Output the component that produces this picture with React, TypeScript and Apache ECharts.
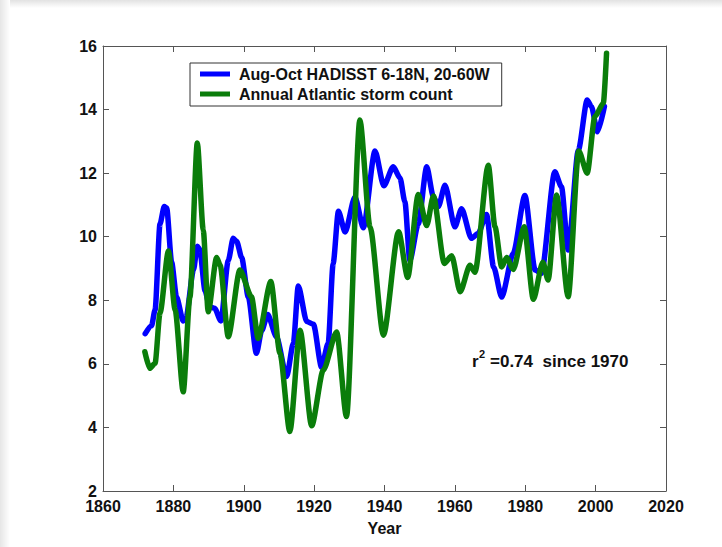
import React, { useEffect, useRef } from "react";
import * as echarts from "echarts";

// Aug-Oct HADISST 6-18N, 20-60W (scaled)
const sstYears = [
  1872.0, 1873.8, 1874.8, 1876.2, 1877.4, 1878.1, 1879.5, 1880.9, 1882.8, 1883.6,
  1885.7, 1886.8, 1887.5, 1889.0, 1890.3, 1891.7, 1893.5, 1895.6, 1897.0, 1898.0,
  1899.4, 1901.3, 1903.6, 1905.1, 1906.8, 1909.3, 1912.2, 1914.1, 1915.5, 1917.9,
  1919.8, 1922.1, 1924.0, 1925.4, 1926.9, 1928.8, 1931.6, 1934.0, 1937.3, 1939.8,
  1942.5, 1944.4, 1945.8, 1947.2, 1949.6, 1952.0, 1953.9, 1955.3, 1957.2, 1960.0,
  1961.9, 1964.7, 1966.6, 1969.0, 1971.0, 1973.3, 1976.6, 1979.9, 1982.8, 1984.6,
  1988.4, 1990.3, 1992.2, 1995.1, 1997.6, 1998.8, 2000.5, 2002.5,
];
const sstValues = [
  6.95, 7.2, 7.7, 10.4, 10.95, 10.9, 9.2, 8.1, 7.35, 7.45,
  8.95, 9.7, 9.6, 8.3, 7.8, 7.75, 7.35, 9.25, 9.95, 9.85,
  9.35, 8.1, 6.33, 7.05, 7.55, 6.85, 5.6, 6.65, 8.45, 7.33,
  7.25, 5.9, 6.65, 9.15, 10.8, 10.15, 11.25, 10.28, 12.7, 11.6,
  12.2, 11.85, 11.1, 9.25, 10.4, 12.2, 11.25, 10.95, 11.62, 10.31,
  10.88, 9.95, 10.1, 10.7, 9.05, 8.1, 9.48, 11.3, 8.95, 8.85,
  12.04, 11.57, 9.58, 12.73, 14.3, 14.1, 13.3, 14.1,
];

// Annual Atlantic storm count
const stormYears = [
  1871.9, 1873.3, 1874.8, 1876.2, 1878.6, 1880.5, 1882.8, 1884.7, 1886.8, 1888.5,
  1889.9, 1892.3, 1893.3, 1895.6, 1898.9, 1902.2, 1904.1, 1907.7, 1910.3, 1913.1,
  1916.0, 1919.3, 1922.6, 1926.4, 1929.2, 1933.0, 1935.9, 1939.7, 1944.0, 1946.6,
  1949.6, 1952.0, 1953.9, 1957.0, 1959.1, 1961.5, 1964.3, 1965.7, 1969.5, 1971.4,
  1973.3, 1974.7, 1976.6, 1979.7, 1982.3, 1985.0, 1986.5, 1988.9, 1992.2, 1995.2,
  1997.6, 1999.8, 2002.2, 2003.1,
];
const stormValues = [
  6.38, 5.86, 6.02, 7.6, 9.55, 7.7, 5.12, 8.1, 12.95, 10.2,
  7.64, 9.35, 9.1, 6.85, 8.95, 8.11, 6.8, 8.59, 6.33, 3.87,
  7.06, 4.05, 5.8, 7.0, 4.34, 13.67, 10.3, 6.9, 10.16, 8.72,
  11.33, 10.35, 11.28, 9.16, 9.4, 8.27, 9.1, 8.88, 12.25, 10.31,
  9.05, 9.35, 8.97, 10.31, 8.03, 9.2, 8.64, 11.31, 8.11, 12.7,
  12.0, 13.78, 14.2, 15.77,
];

const seriesNames = ["Aug-Oct HADISST 6-18N, 20-60W", "Annual Atlantic storm count"];
const xRange = [1860, 2020];
const xStep = 20;
const yRange = [2, 16];
const yStep = 2;
const xTitle = "Year";
const noteParts = ["r", "2", "=0.74  since 1970"];

const FONT = "'Liberation Sans', Arial, Helvetica, sans-serif";

export default function App() {
  const ref = useRef<HTMLDivElement>(null);
  useEffect(() => {
    if (!ref.current) return;
    const chart = echarts.init(ref.current, undefined, { renderer: "svg" });
    const axisLine = { show: true, lineStyle: { color: "#555", width: 1 } };
    const tick = { show: true, inside: true, length: 6, lineStyle: { color: "#555" } };
    const labelStyle = { fontFamily: FONT, fontWeight: "bold" as const, fontSize: 16, color: "#111" };
    const noteFont = { fontFamily: FONT, fontWeight: "bold", fill: "#111" };
    chart.setOption({
      animation: false,
      backgroundColor: "#ffffff",
      grid: { left: 103, right: 56, top: 46, bottom: 56, containLabel: false },
      graphic: [
        {
          type: "rect",
          shape: { x: 0, y: 0, width: 722, height: 8 },
          style: {
            fill: new echarts.graphic.LinearGradient(0, 0, 0, 1, [
              { offset: 0, color: "#e2e2e2" },
              { offset: 1, color: "#ffffff" },
            ]),
          },
          silent: true,
          z: -10,
        },
        {
          type: "rect",
          shape: { x: 0, y: 0, width: 10, height: 547 },
          style: {
            fill: new echarts.graphic.LinearGradient(0, 0, 1, 0, [
              { offset: 0, color: "#e6e6e6" },
              { offset: 1, color: "#ffffff" },
            ]),
          },
          silent: true,
          z: -10,
        },
        {
          type: "text",
          x: 472,
          y: 353,
          style: { ...noteFont, text: noteParts[0], fontSize: 17 },
        },
        {
          type: "text",
          x: 479,
          y: 348,
          style: { ...noteFont, text: noteParts[1], fontSize: 11 },
        },
        {
          type: "text",
          x: 490,
          y: 353,
          style: { ...noteFont, text: noteParts[2], fontSize: 17 },
        },
      ],
      legend: {
        orient: "vertical",
        left: 190,
        top: 63,
        padding: [3, 12, 4, 10],
        itemGap: 4,
        itemWidth: 30,
        itemHeight: 5,
        icon: "rect",
        borderColor: "#333",
        borderWidth: 1,
        backgroundColor: "#fff",
        data: seriesNames,
        textStyle: { ...labelStyle, color: "#111", padding: [0, 0, 0, 4] },
      },
      xAxis: [
        {
          type: "value",
          min: xRange[0],
          max: xRange[1],
          interval: xStep,
          position: "bottom",
          name: xTitle,
          nameLocation: "middle",
          nameGap: 29,
          nameTextStyle: labelStyle,
          axisLine,
          axisTick: tick,
          axisLabel: { ...labelStyle, margin: 7, formatter: (v: number) => String(v) },
          splitLine: { show: false },
        },
        {
          type: "value",
          min: xRange[0],
          max: xRange[1],
          interval: xStep,
          position: "top",
          axisLine,
          axisTick: tick,
          axisLabel: { show: false },
          splitLine: { show: false },
        },
      ],
      yAxis: [
        {
          type: "value",
          min: yRange[0],
          max: yRange[1],
          interval: yStep,
          position: "left",
          axisLine,
          axisTick: tick,
          axisLabel: { ...labelStyle, margin: 6 },
          splitLine: { show: false },
        },
        {
          type: "value",
          min: yRange[0],
          max: yRange[1],
          interval: yStep,
          position: "right",
          axisLine,
          axisTick: tick,
          axisLabel: { show: false },
          splitLine: { show: false },
        },
      ],
      series: [
        {
          name: seriesNames[0],
          type: "line",
          data: sstYears.map((y, i) => [y, sstValues[i]]),
          showSymbol: false,
          symbol: "none",
          smooth: 0.25,
          smoothMonotone: "x",
          color: "#0000ff",
          lineStyle: { width: 5.5, color: "#0000ff", join: "round", cap: "round" },
          z: 2,
        },
        {
          name: seriesNames[1],
          type: "line",
          data: stormYears.map((y, i) => [y, stormValues[i]]),
          showSymbol: false,
          symbol: "none",
          smooth: 0.25,
          smoothMonotone: "x",
          color: "#0a7d0a",
          lineStyle: { width: 5.5, color: "#0a7d0a", join: "round", cap: "round" },
          z: 3,
        },
      ],
    });
    return () => chart.dispose();
  }, []);
  return (
    <div
      ref={ref}
      style={{ position: "fixed", left: 0, top: 0, width: 722, height: 547, background: "#fff" }}
    />
  );
}
